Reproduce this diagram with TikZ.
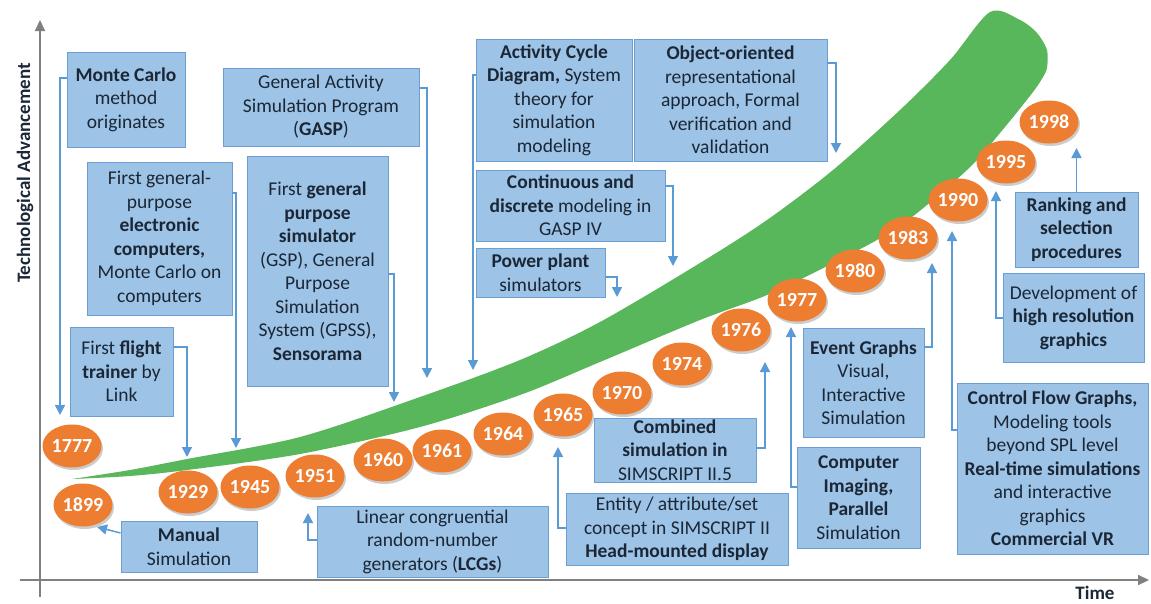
\documentclass[tikz,border=0pt]{standalone}
\usepackage{fontspec}
\setmainfont{Carlito}
\usetikzlibrary{arrows.meta,shapes.geometric,shadows}
\definecolor{boxfill}{HTML}{9DC3E6}
\definecolor{boxline}{HTML}{6B9FD3}
\definecolor{conncol}{HTML}{5B9BD5}
\definecolor{txtcol}{HTML}{1B2736}
\definecolor{yearfill}{HTML}{ED7D31}
\definecolor{bandgreen}{HTML}{58B65B}
\definecolor{axiscol}{HTML}{808080}
\begin{document}
\begin{tikzpicture}[x=1pt,y=-1pt,
 box/.style={draw=boxline, line width=0.9pt, fill=boxfill, inner sep=0pt, align=center, text=txtcol, font=\fontsize{19.5}{23.5}\selectfont},
 year/.style={ellipse, fill=yearfill, minimum width=59pt, minimum height=43pt, inner sep=0pt, text=white, font=\fontsize{20}{22}\selectfont\bfseries, drop shadow={opacity=0.4, shadow xshift=1.5pt, shadow yshift=-2.5pt}},
 conn/.style={draw=conncol, line width=1.5pt, -{Triangle[width=10pt,length=10pt]}},
 axisline/.style={draw=axiscol, line width=2pt, -{Triangle[width=10pt,length=11pt]}},
 lbl/.style={text=txtcol, font=\fontsize{19}{21}\selectfont\bfseries},
]
\useasboundingbox (0,0) rectangle (1151,603);
\fill[white] (0,0) rectangle (1151,603);

% green band
\fill[bandgreen] plot[smooth, tension=0.5] coordinates {(72,479) (130,470) (187,459) (300,437) (420,397) (520,360) (600,322) (700,263) (767,220) (833,170) (900,110) (950,60) (990,12) (1020,20) (1037,33) (1047,50) (1047,68) (1043,77)}
 -- plot[smooth, tension=0.5] coordinates {(1043,77) (1033,92) (1000,133) (967,170) (900,226) (833,263) (767,295) (700,320) (600,362) (520,395) (420,427) (300,454) (187,470) (130,476) (72,479)} -- cycle;

% axes
\coordinate (yaxb) at (40,597);
\coordinate (yaxt) at (40,20);
\coordinate (xaxl) at (20,580);
\coordinate (xaxr) at (1149,580);
\draw[axisline] (yaxb) -- (yaxt);
\draw[axisline] (xaxl) -- (xaxr);
\node[lbl, rotate=90] (ylab) at (25,173) {Technological Advancement};
\node[lbl] (xlab) at (1095,593) {Time};

% boxes
\node[box, minimum width=118pt, minimum height=95pt] (mc) at (126,99.5) {\textbf{Monte Carlo}\\method\\originates};
\node[box, minimum width=196pt, minimum height=78pt] (gasp) at (321,107) {General Activity\\Simulation Program\\(\textbf{GASP})};
\node[box, minimum width=145pt, minimum height=153pt] (fgp) at (159.5,238.5) {First general-\\purpose\\\textbf{electronic}\\\textbf{computers,}\\Monte Carlo on\\computers};
\node[box, minimum width=141pt, minimum height=230pt] (gps) at (317.5,271) {First \textbf{general}\\\textbf{purpose}\\\textbf{simulator}\\(GSP), General\\Purpose\\Simulation\\System (GPSS),\\\textbf{Sensorama}};
\node[box, minimum width=103pt, minimum height=89pt] (flight) at (121.5,371.5) {First \textbf{flight}\\\textbf{trainer} by\\Link};
\node[box, minimum width=136pt, minimum height=51pt] (manual) at (189,546.5) {\textbf{Manual}\\Simulation};
\node[box, minimum width=231pt, minimum height=71pt] (lcg) at (432.5,541.5) {Linear congruential\\random-number\\generators (\textbf{LCGs})};
\node[box, minimum width=156pt, minimum height=122pt] (acd) at (554,100) {\textbf{Activity Cycle}\\\textbf{Diagram,} System\\theory for\\simulation\\modeling};
\node[box, minimum width=193pt, minimum height=122pt] (oo) at (730.5,100) {\textbf{Object-oriented}\\representational\\approach, Formal\\verification and\\validation};
\node[box, minimum width=189pt, minimum height=71pt] (cd) at (570.5,205.5) {\textbf{Continuous and}\\\textbf{discrete} modeling in\\GASP IV};
\node[box, minimum width=129pt, minimum height=49pt] (pp) at (540.5,272.5) {\textbf{Power plant}\\simulators};
\node[box, minimum width=162pt, minimum height=64pt] (comb) at (675,450) {\textbf{Combined}\\\textbf{simulation in}\\SIMSCRIPT II.5};
\node[box, minimum width=222pt, minimum height=72pt] (ent) at (677,529) {Entity / attribute/set\\concept in SIMSCRIPT II\\\textbf{Head-mounted display}};
\node[box, minimum width=121pt, minimum height=109pt] (eg) at (863.5,382.5) {\textbf{Event Graphs}\\Visual,\\Interactive\\Simulation};
\node[box, minimum width=123pt, minimum height=101pt] (ci) at (858.5,497.5) {\textbf{Computer}\\\textbf{Imaging,}\\\textbf{Parallel}\\Simulation};
\node[box, minimum width=191pt, minimum height=171pt] (cfg) at (1052.5,468.5) {\textbf{Control Flow Graphs,}\\Modeling tools\\beyond SPL level\\\textbf{Real-time simulations}\\and interactive\\graphics\\\textbf{Commercial VR}};
\node[box, minimum width=141pt, minimum height=89pt] (dev) at (1073.5,317.5) {Development of\\\textbf{high resolution}\\\textbf{graphics}};
\node[box, minimum width=123pt, minimum height=75pt] (rank) at (1076.5,229.5) {\textbf{Ranking and}\\\textbf{selection}\\\textbf{procedures}};

% arrow tips
\coordinate (t1) at (60,415);
\coordinate (t2) at (427,378);
\coordinate (t3) at (236,448);
\coordinate (t4) at (394,402);
\coordinate (t5) at (187,457);
\coordinate (t6) at (97,527);
\coordinate (t7) at (308,513);
\coordinate (t8) at (473,370);
\coordinate (t9) at (836,153);
\coordinate (t10) at (673,266);
\coordinate (t11) at (617,297);
\coordinate (t12) at (765,362);
\coordinate (t13) at (558,447);
\coordinate (t14) at (932,263);
\coordinate (t15) at (791,327);
\coordinate (t16) at (952,231);
\coordinate (t17) at (996,191);
\coordinate (t18) at (1076.5,148);

% connectors
\draw[conn] (mc.west |- 0,78) -| (t1);
\draw[conn] (gasp.east |- 0,88) -| (t2);
\draw[conn] (fgp.east |- 0,193) -| (t3);
\draw[conn] (gps.east |- 0,274) -| (t4);
\draw[conn] (flight.east |- 0,347) -| (t5);
\draw[conn] (manual.west |- 0,533) -- (t6);
\draw[conn] (lcg.west |- 0,540) -| (t7);
\draw[conn] (acd.west |- 0,75) -| (t8);
\draw[conn] (oo.east |- 0,63) -| (t9);
\draw[conn] (cd.east |- 0,186) -| (t10);
\draw[conn] (pp.east |- 0,277) -| (t11);
\draw[conn] (comb.east |- 0,448) -| (t12);
\draw[conn] (ent.west |- 0,528) -| (t13);
\draw[conn] (eg.east |- 0,347) -| (t14);
\draw[conn] (ci.west |- 0,487) -| (t15);
\draw[conn] (cfg.west |- 0,430) -| (t16);
\draw[conn] (dev.west |- 0,318) -| (t17);
\draw[conn] (rank.north) -- (t18);

% years
\node[year] (y1777) at (72,446) {1777};
\node[year] (y1899) at (83,505) {1899};
\node[year] (y1929) at (188,492) {1929};
\node[year] (y1945) at (250,487) {1945};
\node[year] (y1951) at (315,476) {1951};
\node[year] (y1960) at (383,460) {1960};
\node[year] (y1961) at (442,451) {1961};
\node[year] (y1964) at (503,434) {1964};
\node[year] (y1965) at (563,415) {1965};
\node[year] (y1970) at (622,393) {1970};
\node[year] (y1974) at (682,364) {1974};
\node[year] (y1976) at (741,330) {1976};
\node[year] (y1977) at (797,300) {1977};
\node[year] (y1980) at (855,271) {1980};
\node[year] (y1983) at (908,238) {1983};
\node[year] (y1990) at (958,200) {1990};
\node[year] (y1995) at (1006,162) {1995};
\node[year] (y1998) at (1049,122) {1998};
\end{tikzpicture}
\end{document}
